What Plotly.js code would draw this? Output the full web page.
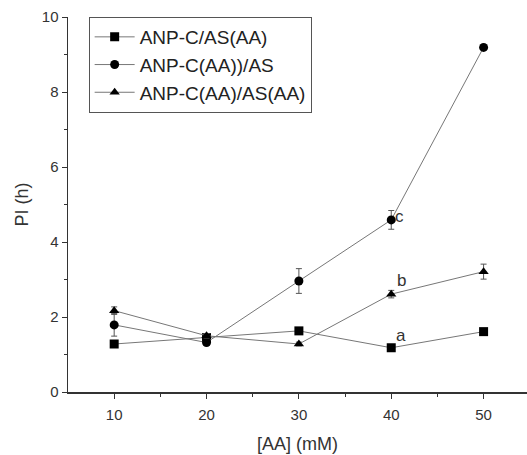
<!DOCTYPE html>
<html><head><meta charset="utf-8">
<script src="https://cdn.plot.ly/plotly-3.0.1.min.js"></script>
<style>html,body{margin:0;padding:0;background:#fff;}#chart{width:527px;height:455px;}</style>
</head><body><div id="chart"></div>
<script>
var xVals = [10, 20, 30, 40, 50];
var seriesNames = ["ANP-C/AS(AA)", "ANP-C(AA))/AS", "ANP-C(AA)/AS(AA)"];
var squareY = [1.28, 1.45, 1.63, 1.18, 1.61];
var squareErr = [0.05, 0.05, 0.05, 0.06, 0.05];
var circleY = [1.79, 1.32, 2.96, 4.59, 9.19];
var circleErr = [0.3, 0.06, 0.33, 0.25, 0.05];
var triangleY = [2.17, 1.5, 1.28, 2.61, 3.21];
var triangleErr = [0.1, 0.06, 0.05, 0.1, 0.2];
var letterLabels = ["a", "b", "c"];
var letterX = [41.1, 41.1, 40.9];
var letterY = [1.5, 2.98, 4.69];

var FONT = 'Liberation Sans, Arial, sans-serif';
function mk(y, err, name, sym) {
  return {
    x: xVals, y: y, name: name, type: 'scatter', mode: 'lines+markers',
    line: {color: '#777', width: 1},
    marker: {symbol: sym, color: '#000', size: 9},
    error_y: {type: 'data', array: err, visible: true, color: '#555', thickness: 1, width: 3}
  };
}
var data = [
  mk(squareY, squareErr, seriesNames[0], 'square'),
  mk(circleY, circleErr, seriesNames[1], 'circle'),
  mk(triangleY, triangleErr, seriesNames[2], 'triangle-up')
];
var ann = letterLabels.map(function(t, i){
  return {x: letterX[i], y: letterY[i], text: t, showarrow: false, xref: 'x', yref: 'y',
    font: {family: FONT, size: 17, color: '#333'}};
});
var layout = {
  width: 527, height: 455,
  margin: {l: 68, r: 0, t: 17, b: 63},
  paper_bgcolor: '#fff', plot_bgcolor: '#fff',
  showlegend: true,
  legend: {x: 0.045, y: 1.0, xanchor: 'left', yanchor: 'top',
    bordercolor: '#555', borderwidth: 1, bgcolor: '#fff',
    font: {family: FONT, size: 19, color: '#222'},
    tracegroupgap: 0, itemwidth: 40},
  xaxis: {range: [5, 54.7], tickvals: xVals, ticks: 'outside', ticklen: 5, tickcolor: '#333',
    showline: true, linecolor: '#333', linewidth: 1.5, showgrid: false, zeroline: false,
    ticklabelstandoff: 3,
    tickfont: {family: FONT, size: 15, color: '#333'},
    minor: {tickvals: [15, 25, 35, 45], ticks: 'outside', ticklen: 3, tickcolor: '#333'},
    title: {text: '[AA] (mM)', font: {family: FONT, size: 18, color: '#333'}, standoff: 16}},
  yaxis: {range: [0, 10], tickvals: [0, 2, 4, 6, 8, 10], ticks: 'outside', ticklen: 5, tickcolor: '#333',
    showline: true, linecolor: '#333', linewidth: 1.5, showgrid: false, zeroline: false,
    tickfont: {family: FONT, size: 15, color: '#333'},
    minor: {tickvals: [1, 3, 5, 7, 9], ticks: 'outside', ticklen: 3, tickcolor: '#333'},
    title: {text: 'PI (h)', font: {family: FONT, size: 18, color: '#333'}, standoff: 8}},
  annotations: ann
};
Plotly.newPlot('chart', data, layout, {displayModeBar: false, staticPlot: true});
</script></body></html>
